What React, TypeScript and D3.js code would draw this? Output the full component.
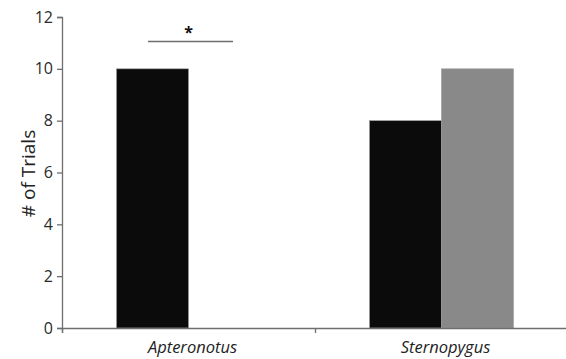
import { useEffect, useRef } from "react";
import * as d3 from "d3";

const categories = ["Apteronotus", "Sternopygus"];
const seriesNames = ["black", "gray"];
const blackValues = [10, 8];
const grayValues = [0, 10];
const yTicks = [0, 2, 4, 6, 8, 10, 12];
const yLabel = "# of Trials";
const sigLabel = "*";

const W = 566;
const H = 359;

const App = () => {
  const svgRef = useRef<SVGSVGElement>(null);

  useEffect(() => {
    const svg = d3.select(svgRef.current);
    svg.selectAll("*").remove();

    const margin = { top: 17, right: -2, bottom: 31, left: 62 };
    const width = W - margin.left - margin.right;
    const height = H - margin.top - margin.bottom;
    const font = "'Open Sans', sans-serif";

    const g = svg
      .append("g")
      .attr("transform", `translate(${margin.left},${margin.top})`);

    const x = d3.scaleBand().domain(categories).range([0, width]).paddingInner(0).paddingOuter(0);
    const x1 = d3
      .scaleBand()
      .domain(seriesNames)
      .range([0, x.bandwidth()])
      .paddingOuter(0.757);
    const y = d3.scaleLinear().domain([0, 12]).range([height, 0]);

    const rows = categories.map((c, i) => ({
      cat: c,
      vals: [
        { key: "black", v: blackValues[i], color: "#0b0b0b" },
        { key: "gray", v: grayValues[i], color: "#898989" },
      ],
    }));

    // bars
    g.selectAll(".grp")
      .data(rows)
      .enter()
      .append("g")
      .attr("transform", (d) => `translate(${x(d.cat)},0)`)
      .selectAll("rect")
      .data((d) => d.vals.filter((b) => b.v > 0))
      .enter()
      .append("rect")
      .attr("x", (b) => x1(b.key)!)
      .attr("width", x1.bandwidth())
      .attr("y", (b) => y(b.v))
      .attr("height", (b) => height - y(b.v))
      .attr("fill", (b) => b.color)
      .attr("stroke", "#9a9a9a")
      .attr("stroke-width", 0.6);

    // y axis
    const yAxis = g
      .append("g")
      .call(d3.axisLeft(y).tickValues(yTicks).tickSize(5).tickPadding(4));
    yAxis.select(".domain").attr("stroke", "#6e6e6e").attr("stroke-width", 1.3);
    yAxis.selectAll(".tick line").attr("stroke", "#6e6e6e").attr("stroke-width", 1.3);
    yAxis
      .selectAll(".tick text")
      .attr("fill", "#2a2a2a")
      .style("font-family", font)
      .style("font-size", "16px");

    // x axis
    const xAxis = g
      .append("g")
      .attr("transform", `translate(0,${height})`)
      .call(
        d3
          .axisBottom(d3.scaleLinear().domain([0, 2]).range([0, width]))
          .tickValues([0, 1])
          .tickSize(5)
          .tickFormat(() => "")
      );
    xAxis.select(".domain").attr("stroke", "#6e6e6e").attr("stroke-width", 1.3);
    xAxis.selectAll(".tick line").attr("stroke", "#6e6e6e").attr("stroke-width", 1.3);

    g.selectAll(".cat")
      .data(categories)
      .enter()
      .append("text")
      .attr("x", (d) => x(d)! + x.bandwidth() / 2 + 4)
      .attr("y", height + 25)
      .attr("text-anchor", "middle")
      .attr("fill", "#222")
      .style("font-family", font)
      .style("font-style", "italic")
      .style("font-size", "16.5px")
      .text((d) => d);

    // y label
    g.append("text")
      .attr("transform", `translate(${-27},${height / 2 + 1}) rotate(-90)`)
      .attr("text-anchor", "middle")
      .attr("fill", "#222")
      .style("font-family", font)
      .style("font-size", "19px")
      .text(yLabel);

    // significance
    const cx = x(categories[0])! + x1("gray")!;
    const half = x1.bandwidth() * 0.59;
    const sy = y(11.05);
    g.append("line")
      .attr("x1", cx - half + 2)
      .attr("x2", cx + half + 2)
      .attr("y1", sy)
      .attr("y2", sy)
      .attr("stroke", "#6e6e6e")
      .attr("stroke-width", 1.5);
    g.append("text")
      .attr("x", cx)
      .attr("y", sy - 4)
      .attr("text-anchor", "middle")
      .attr("fill", "#111")
      .style("font-family", font)
      .style("font-weight", "bold")
      .style("font-size", "16px")
      .text(sigLabel);
  }, []);

  return (
    <svg
      ref={svgRef}
      width={W}
      height={H}
      style={{ position: "absolute", left: 0, top: 0, background: "#fff" }}
    />
  );
};

export default App;
